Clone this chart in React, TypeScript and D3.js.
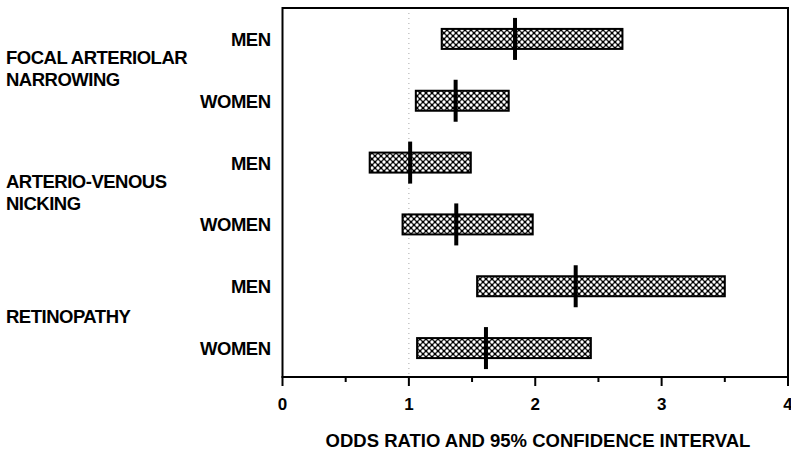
import React from "react";
import * as d3 from "d3";

const rows = ["FAR-M", "FAR-W", "AVN-M", "AVN-W", "RET-M", "RET-W"];
const sexLabels = ["MEN", "WOMEN", "MEN", "WOMEN", "MEN", "WOMEN"];
const lowerCI = [1.26, 1.055, 0.69, 0.95, 1.54, 1.065];
const upperCI = [2.69, 1.79, 1.49, 1.98, 3.5, 2.44];
const oddsRatio = [1.84, 1.37, 1.01, 1.375, 2.32, 1.61];
const groupNames = [["FOCAL ARTERIOLAR", "NARROWING"], ["ARTERIO-VENOUS", "NICKING"], ["RETINOPATHY"]];
const groupRows = [["FAR-M", "FAR-W"], ["AVN-M", "AVN-W"], ["RET-M", "RET-W"]];
const majorTicks = [0, 1, 2, 3, 4];
const minorTicks = [0.5, 1.5, 2.5, 3.5];
const axisTitle = "ODDS RATIO AND 95% CONFIDENCE INTERVAL";

export default function App() {
  const W = 791, H = 452;
  const left = 282.5, right = 788, top = 8, bottom = 377;
  const x = d3.scaleLinear().domain([0, 4]).range([left, right]);
  const y = d3.scaleBand().domain(rows).range([top, 379]).paddingInner(0).paddingOuter(0);
  const bw = 20;
  const font = "'Liberation Sans', Arial, Helvetica, sans-serif";
  return (
    <svg width={W} height={H} style={{ position: "absolute", left: 0, top: 0, background: "#fff" }}>
      <defs>
        <pattern id="hatch" width="6" height="6" patternUnits="userSpaceOnUse">
          <rect width="6" height="6" fill="#000" />
          <circle cx="0" cy="0" r="1.7" fill="#fff" />
          <circle cx="6" cy="0" r="1.7" fill="#fff" />
          <circle cx="0" cy="6" r="1.7" fill="#fff" />
          <circle cx="6" cy="6" r="1.7" fill="#fff" />
          <circle cx="3" cy="3" r="1.7" fill="#fff" />
        </pattern>
      </defs>
      <line x1={x(1)} x2={x(1)} y1={top} y2={bottom} stroke="#aaa" strokeWidth={1} strokeDasharray="1,4" />
      <line x1={left} x2={right} y1={top} y2={top} stroke="#000" strokeWidth={2} />
      <line x1={left} x2={left} y1={top - 1} y2={bottom} stroke="#000" strokeWidth={2} />
      <line x1={right} x2={right} y1={top - 1} y2={bottom} stroke="#000" strokeWidth={2} />
      <line x1={left - 1} x2={right + 1} y1={bottom} y2={bottom} stroke="#000" strokeWidth={2.2} />
      {majorTicks.map((t) => (
        <g key={"M" + t}>
          <line x1={x(t)} x2={x(t)} y1={bottom} y2={bottom + 9} stroke="#000" strokeWidth={2} />
          <text x={x(t)} y={410} textAnchor="middle" fontFamily={font} fontWeight="bold" fontSize={17} fill="#000">{t}</text>
        </g>
      ))}
      {minorTicks.map((t) => (
        <line key={"m" + t} x1={x(t)} x2={x(t)} y1={bottom} y2={bottom + 5} stroke="#000" strokeWidth={2} />
      ))}
      <text x={538} y={446.5} textAnchor="middle" fontFamily={font} fontWeight="bold" fontSize={18.5} fill="#000">{axisTitle}</text>
      {rows.map((r, i) => {
        const cy = (y(r) as number) + y.bandwidth() / 2;
        return (
          <g key={r}>
            <rect x={x(lowerCI[i])} y={cy - bw / 2} width={x(upperCI[i]) - x(lowerCI[i])} height={bw} fill="url(#hatch)" stroke="#000" strokeWidth={2} />
            <line x1={x(oddsRatio[i])} x2={x(oddsRatio[i])} y1={cy - 21} y2={cy + 21} stroke="#000" strokeWidth={4} />
            <text x={270.5} y={cy + 7} textAnchor="end" fontFamily={font} fontWeight="bold" fontSize={18.5} letterSpacing={-0.5} fill="#000">{sexLabels[i]}</text>
          </g>
        );
      })}
      {groupNames.map((lines, gi) => {
        const c1 = (y(groupRows[gi][0]) as number) + y.bandwidth() / 2;
        const c2 = (y(groupRows[gi][1]) as number) + y.bandwidth() / 2;
        const mid = (c1 + c2) / 2;
        const startY = lines.length === 2 ? mid - 6 : mid + 5.5;
        return (
          <text key={gi} x={6} fontFamily={font} fontWeight="bold" fontSize={18.5} letterSpacing={-0.5} fill="#000">
            {lines.map((l, li) => (
              <tspan key={li} x={6} y={startY + li * 22}>{l}</tspan>
            ))}
          </text>
        );
      })}
    </svg>
  );
}
